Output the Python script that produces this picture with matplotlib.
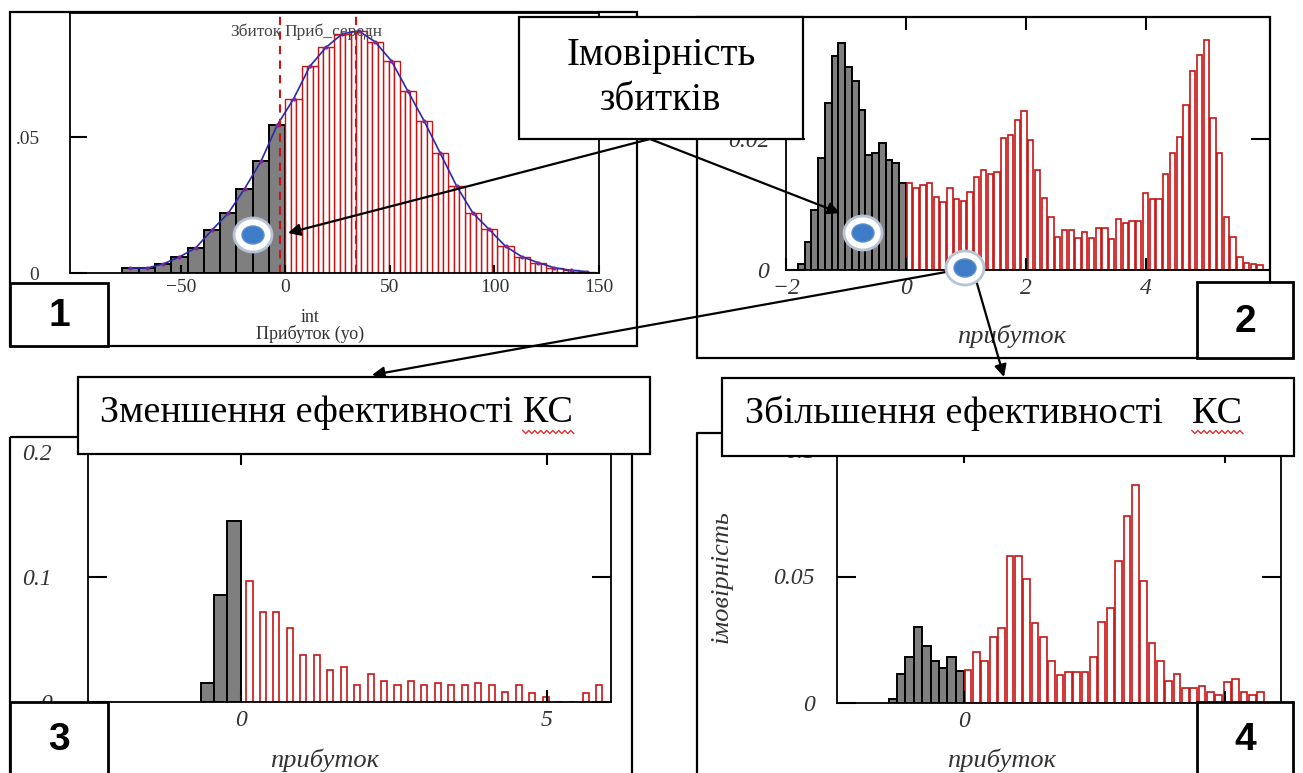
import numpy as np
import matplotlib.pyplot as plt
from matplotlib.patches import Rectangle, Ellipse

W, H = 1303, 773
SERIF = ['Liberation Serif', 'DejaVu Serif']
RED = '#c81414'
GRAY = '#7f7f7f'

# ---- panel 1: profit distribution (units), loss bins / gain bins
p1_bin = 7.8
p1_loss = [0.0018, 0.0018, 0.0033, 0.0059, 0.0092, 0.0158, 0.022, 0.031, 0.041, 0.0544]
p1_gain = [0.064, 0.076, 0.083, 0.088, 0.089, 0.085, 0.078, 0.067, 0.056, 0.044,
           0.032, 0.022, 0.016, 0.0098, 0.006, 0.0038, 0.0019, 0.001, 0.0005]
p1_loss_mark = -2.4
p1_mean_mark = 33.8
p1_xticks = [-50, 0, 50, 100, 150]
p1_yticks = [0, 0.05]
p1_ylabels = ['0', '.05']

# ---- panel 2
p2_bin = 0.1125
p2_loss = [0.0009, 0.0043, 0.0092, 0.0171, 0.0255, 0.0327, 0.0347, 0.031, 0.0289, 0.0244,
           0.0176, 0.0179, 0.0194, 0.0168, 0.0163, 0.0133]
p2_gain = [0.0133, 0.0125, 0.0129, 0.0133, 0.0112, 0.0104, 0.0125, 0.0108, 0.0105, 0.0119,
           0.0142, 0.0153, 0.0146, 0.0150, 0.0201, 0.0206, 0.0229, 0.0242, 0.0198, 0.0153,
           0.0110, 0.0081, 0.0051, 0.0061, 0.0061, 0.0049, 0.0058, 0.0049, 0.0064, 0.0064,
           0.0048, 0.0078, 0.0072, 0.0075, 0.0074, 0.0117, 0.0108, 0.0108, 0.0147, 0.0178,
           0.0203, 0.0252, 0.0303, 0.0328, 0.0351, 0.0232, 0.0178, 0.0081, 0.0051, 0.0020,
           0.0011, 0.0009, 0.0007]
p2_xticks = [-2, 0, 2, 4]
p2_yticks = [0, 0.02]

# ---- panel 3: reduced efficiency
p3_bin = 0.22
p3_loss = [0.015, 0.086, 0.145]
p3_gain = [0.097, 0.072, 0.072, 0.059, 0.038, 0.038, 0.026, 0.028, 0.0136, 0.0224,
           0.0168, 0.0136, 0.0168, 0.0136, 0.0152, 0.0136, 0.0136, 0.0152, 0.0136, 0.0080,
           0.0136, 0.0070, 0.0040, 0.0, 0.0, 0.007, 0.014]
p3_xticks = [0, 5]
p3_yticks = [0, 0.1, 0.2]

# ---- panel 4: increased efficiency
p4_bin = 0.16
p4_loss = [0.0016, 0.0113, 0.0183, 0.0299, 0.0226, 0.0166, 0.0137, 0.0183, 0.0128]
p4_gain = [0.0130, 0.020, 0.0166, 0.0262, 0.0297, 0.058, 0.058, 0.0492, 0.0315, 0.0262,
           0.0166, 0.011, 0.0121, 0.0121, 0.0121, 0.0183, 0.0319, 0.0376, 0.0562, 0.0738,
           0.0861, 0.0482, 0.0236, 0.0166, 0.0087, 0.0113, 0.006, 0.006, 0.0067, 0.0042,
           0.0032, 0.0084, 0.0095, 0.0042, 0.0032, 0.0042]
p4_xticks = [0, 5]
p4_yticks = [0, 0.05, 0.1]


def px_axes(fig, left, top, right, bottom):
    return fig.add_axes([left / W, 1 - bottom / H, (right - left) / W, (bottom - top) / H])


def style(ax, xticks, yticks, ylabels=None, italic=True, size=17, xpad=6, ypad=14,
          xlen=9, ylen=14, mirror=True):
    ax.set_xticks(xticks)
    ax.set_yticks(yticks)
    ax.set_xticklabels([('\u2212%g' % -t) if t < 0 else '%g' % t for t in xticks])
    ax.set_yticklabels(ylabels if ylabels else ['%g' % t for t in yticks])
    ax.tick_params(axis='x', direction='in', length=xlen, width=1.5, pad=xpad,
                   top=mirror, labelsize=size)
    ax.tick_params(axis='y', direction='in', length=ylen, width=1.5, pad=ypad,
                   right=mirror, labelsize=size)
    for lab in ax.get_xticklabels() + ax.get_yticklabels():
        lab.set_fontfamily(SERIF)
        lab.set_fontstyle('italic' if italic else 'normal')
        lab.set_color('#333333')
    for s in ax.spines.values():
        s.set_linewidth(1.3)


def hist(ax, bw, loss, gain, sub=1, frac=1.0, shift=0.0, lw=1.0):
    n = len(loss)
    loss_left = -bw * n + bw * np.arange(n)
    ax.bar(loss_left, loss, width=bw, align='edge', color=GRAY, edgecolor='black', lw=1.4)
    gain_left = bw * np.arange(len(gain))
    sw = bw * frac / sub
    off = (bw - bw * frac) / 2 + shift
    for j in range(sub):
        ax.bar(gain_left + off + j * sw, gain, width=sw, align='edge',
               facecolor='white', edgecolor=RED, lw=lw)
    return loss_left, gain_left


fig = plt.figure(figsize=(W / 100, H / 100), dpi=100)
fig.patch.set_facecolor('white')

# panel 1
ax1 = px_axes(fig, 70, 13, 599, 273)
ll, gl = hist(ax1, p1_bin, p1_loss, p1_gain, sub=3, lw=1.0)
cx = np.concatenate([ll, gl]) + p1_bin / 2
cy = np.concatenate([p1_loss, p1_gain])
ax1.plot(cx, cy, color='#2a2aa8', lw=1.2, marker='o', ms=2, mfc='#7a2a9a', mec='#7a2a9a')
for xm in (p1_loss_mark, p1_mean_mark):
    ax1.axvline(xm, color=RED, ls=(0, (4, 3)), lw=1.5)
ax1.text(-1.8, 0.0886, 'Збиток', family=SERIF, fontsize=12.5, color='#444444',
         va='center', ha='right')
ax1.text(-0.6, 0.0886, 'Приб_середн', family=SERIF, fontsize=12.5, color='#444444',
         va='center', ha='left')
ax1.set_xlim(-103, 150)
ax1.set_ylim(0, 0.0956)
style(ax1, p1_xticks, p1_yticks, p1_ylabels, italic=False, size=14, xpad=4, ypad=22,
      xlen=6, ylen=12, mirror=False)

# panel 2
ax2 = px_axes(fig, 786, 17, 1270, 270)
hist(ax2, p2_bin, p2_loss, p2_gain, frac=0.8, lw=1.2)
ax2.set_xlim(-2.0, 6.07)
ax2.set_ylim(0, 0.0386)
style(ax2, p2_xticks, p2_yticks, xpad=6, ypad=12, xlen=9, ylen=14)

# panel 3
ax3 = px_axes(fig, 88, 452, 611, 702)
hist(ax3, p3_bin, p3_loss, p3_gain, frac=0.45, shift=0.03, lw=1.2)
ax3.set_xlim(-2.5, 6.05)
ax3.set_ylim(0, 0.2)
style(ax3, p3_xticks, p3_yticks, xpad=6, ypad=26, xlen=9, ylen=14)

# panel 4
ax4 = px_axes(fig, 837, 450, 1281, 703)
hist(ax4, p4_bin, p4_loss, p4_gain, frac=0.8, lw=1.2)
ax4.set_xlim(-2.43, 6.07)
ax4.set_ylim(0, 0.1)
style(ax4, p4_xticks, p4_yticks, xpad=6, ypad=16, xlen=9, ylen=14)

# ---- overlay in pixel coordinates
ov = fig.add_axes([0, 0, 1, 1])
ov.set_zorder(10)
ov.patch.set_visible(False)
ov.set_xlim(0, W)
ov.set_ylim(H, 0)
ov.axis('off')


def frame(x0, y0, x1, y1, fill=False, z=1, lw=1.6):
    ov.add_patch(Rectangle((x0, y0), x1 - x0, y1 - y0, fill=fill, facecolor='white',
                           edgecolor='black', lw=lw, zorder=z, clip_on=False))


frame(10, 12, 637, 346)
frame(697, 17, 1270, 358)
frame(10, 437, 632, 790)
ov.plot([697, 697, 722], [790, 433, 433], color='black', lw=1.6, zorder=1)

# axis titles
ov.text(310, 318, 'int', family=SERIF, fontsize=13, ha='center', va='center', color='#333333')
ov.text(310, 334, 'Прибуток (уо)', family=SERIF, fontsize=13, ha='center', va='center',
        color='#333333')
for x, y in [(1012, 336), (325, 760), (1002, 760)]:
    ov.text(x, y, 'прибуток', family=SERIF, style='italic', fontsize=19, ha='center',
            va='center', color='#333333')
ov.text(722, 577, 'імовірність', family=SERIF, style='italic', fontsize=19, ha='center',
        va='center', rotation=90, color='#333333')

# arrows
arrows = [((650, 139), (288, 233)), ((650, 139), (840, 213)),
          ((946, 272), (372, 375)), ((976, 280), (1004, 377))]
for (sx, sy), (ex, ey) in arrows:
    ov.annotate('', xy=(ex, ey), xytext=(sx, sy),
                arrowprops=dict(arrowstyle='-|>', color='black', lw=1.6,
                                mutation_scale=18, shrinkA=0, shrinkB=0), zorder=3)

# highlighted points
for (dx, dy) in [(253, 235), (863, 233), (965, 268)]:
    ov.add_patch(Ellipse((dx, dy), 38, 34, facecolor='white', edgecolor='#b8c4d4', lw=2, zorder=4))
    ov.add_patch(Ellipse((dx, dy), 22, 18, facecolor='#3f7cc8', edgecolor='#5a8fd0', lw=1, zorder=5))

# callout boxes
BOX_FS = 27.5
frame(519, 17, 803, 139, fill=True, z=6)
ov.text(661, 55, 'Імовірність', family=SERIF, fontsize=28, ha='center', va='center', zorder=7)
ov.text(661, 100, 'збитків', family=SERIF, fontsize=28, ha='center', va='center', zorder=7)
frame(78, 377, 650, 454, fill=True, z=6)
t3 = ov.text(100, 413, 'Зменшення ефективності КС', family=SERIF, fontsize=BOX_FS,
             ha='left', va='center', zorder=7)
frame(722, 378, 1294, 456, fill=True, z=6)
t4 = ov.text(745, 413, 'Збільшення ефективності   КС', family=SERIF, fontsize=BOX_FS,
             ha='left', va='center', zorder=7)

# spell-check squiggles under the last word "КС"
fig.canvas.draw()
rend = fig.canvas.get_renderer()
probe = ov.text(0, 0, 'КС', family=SERIF, fontsize=BOX_FS)
kc_w = probe.get_window_extent(rend).width
probe.remove()
inv = ov.transData.inverted()
for t in (t3, t4):
    bb = t.get_window_extent(rend)
    (x1, ybot), = inv.transform([[bb.x1, bb.y0]])
    (x0, _), = inv.transform([[bb.x1 - kc_w, bb.y0]])
    xs = np.arange(x0, x1 + 1, 3)
    ys = 432 + np.where(np.arange(len(xs)) % 2 == 0, -1.5, 1.5)
    ov.plot(xs, ys, color='#e03030', lw=1, zorder=8)

# panel number boxes
for (x0, y0, x1, y1, lab) in [(10, 283, 108, 346, '1'), (1197, 282, 1293, 358, '2'),
                              (10, 702, 108, 790, '3'), (1197, 702, 1293, 790, '4')]:
    frame(x0, y0, x1, y1, fill=True, z=6, lw=2)
    ov.text((x0 + x1) / 2, 740 if y1 > 773 else (y0 + y1) / 2 + 2, lab,
            family=['Liberation Sans', 'DejaVu Sans'], fontweight='bold', fontsize=28,
            ha='center', va='center', zorder=7)

fig.savefig('out.png', dpi=100)
